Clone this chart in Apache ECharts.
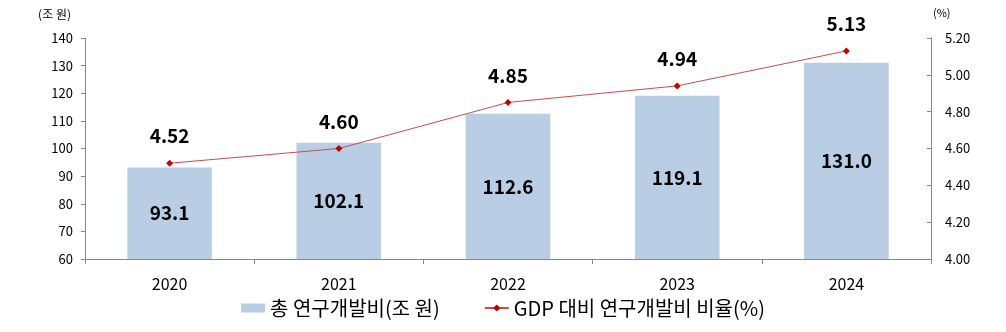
<!DOCTYPE html>
<html><head><meta charset="utf-8">
<script src="https://cdn.jsdelivr.net/npm/echarts@6/dist/echarts.min.js"></script>
<style>html,body{margin:0;padding:0;background:#fff}#c{width:1006px;height:332px}</style>
</head><body><div id="c"></div>
<script>
const categories = ['2020','2021','2022','2023','2024'];
const rdSpend = [93.1, 102.1, 112.6, 119.1, 131.0];
const gdpRatio = [4.52, 4.60, 4.85, 4.94, 5.13];
const leftTicks = [60, 140, 10];
const rightTicks = [4.0, 5.2, 0.2];
const font = '"Malgun Gothic","Noto Sans CJK KR","Noto Sans",sans-serif';
const chart = echarts.init(document.getElementById('c'));
chart.setOption({
  animation: false,
  textStyle: {fontFamily: font},
  grid: {left: 85, right: 75, top: 38, bottom: 73},
  legend: {
    top: 293, left: 'center', itemGap: 44, itemWidth: 24, itemHeight: 9,
    textStyle: {fontSize: 20, color: '#000', fontFamily: font},
    data: [
      {name: '총 연구개발비(조 원)', icon: 'rect'},
      {name: 'GDP 대비 연구개발비 비율(%)'}
    ]
  },
  xAxis: {
    type: 'category', data: categories,
    axisLine: {lineStyle: {color: '#888'}},
    axisTick: {show: true, length: 5, lineStyle: {color: '#888'}},
    axisLabel: {fontSize: 16, color: '#000', margin: 17}
  },
  yAxis: [
    {
      type: 'value', min: leftTicks[0], max: leftTicks[1], interval: leftTicks[2],
      name: '(조 원)', nameLocation: 'end', nameGap: 18,
      nameTextStyle: {fontSize: 12, color: '#000', align: 'right', padding: [0, 14, 0, 0]},
      axisLine: {show: true, lineStyle: {color: '#888'}},
      axisTick: {show: true, length: 4, lineStyle: {color: '#888'}},
      splitLine: {show: false},
      axisLabel: {fontSize: 13, color: '#000', margin: 12}
    },
    {
      type: 'value', min: rightTicks[0], max: rightTicks[1], interval: rightTicks[2],
      name: '(%)', nameLocation: 'end', nameGap: 20,
      nameTextStyle: {fontSize: 11, color: '#000', align: 'left', padding: [0, 0, 0, 2]},
      axisLine: {show: true, lineStyle: {color: '#888'}},
      axisTick: {show: true, inside: true, length: 4, lineStyle: {color: '#888'}},
      splitLine: {show: false},
      axisLabel: {fontSize: 13, color: '#000', margin: 14, formatter: v => v.toFixed(2)}
    }
  ],
  series: [
    {
      name: '총 연구개발비(조 원)', type: 'bar', data: rdSpend, barWidth: '50%',
      itemStyle: {color: '#B9CDE5'},
      label: {show: true, position: 'inside', fontSize: 19, fontWeight: 'bold', color: '#000',
        formatter: p => p.value.toFixed(1)}
    },
    {
      name: 'GDP 대비 연구개발비 비율(%)', type: 'line', yAxisIndex: 1, data: gdpRatio,
      symbol: 'diamond', symbolSize: 7,
      lineStyle: {color: '#C0504D', width: 1}, itemStyle: {color: '#C00000'},
      label: {show: true, position: 'top', distance: 14, fontSize: 19, fontWeight: 'bold', color: '#000',
        formatter: p => p.value.toFixed(2)}
    }
  ]
});
</script></body></html>
